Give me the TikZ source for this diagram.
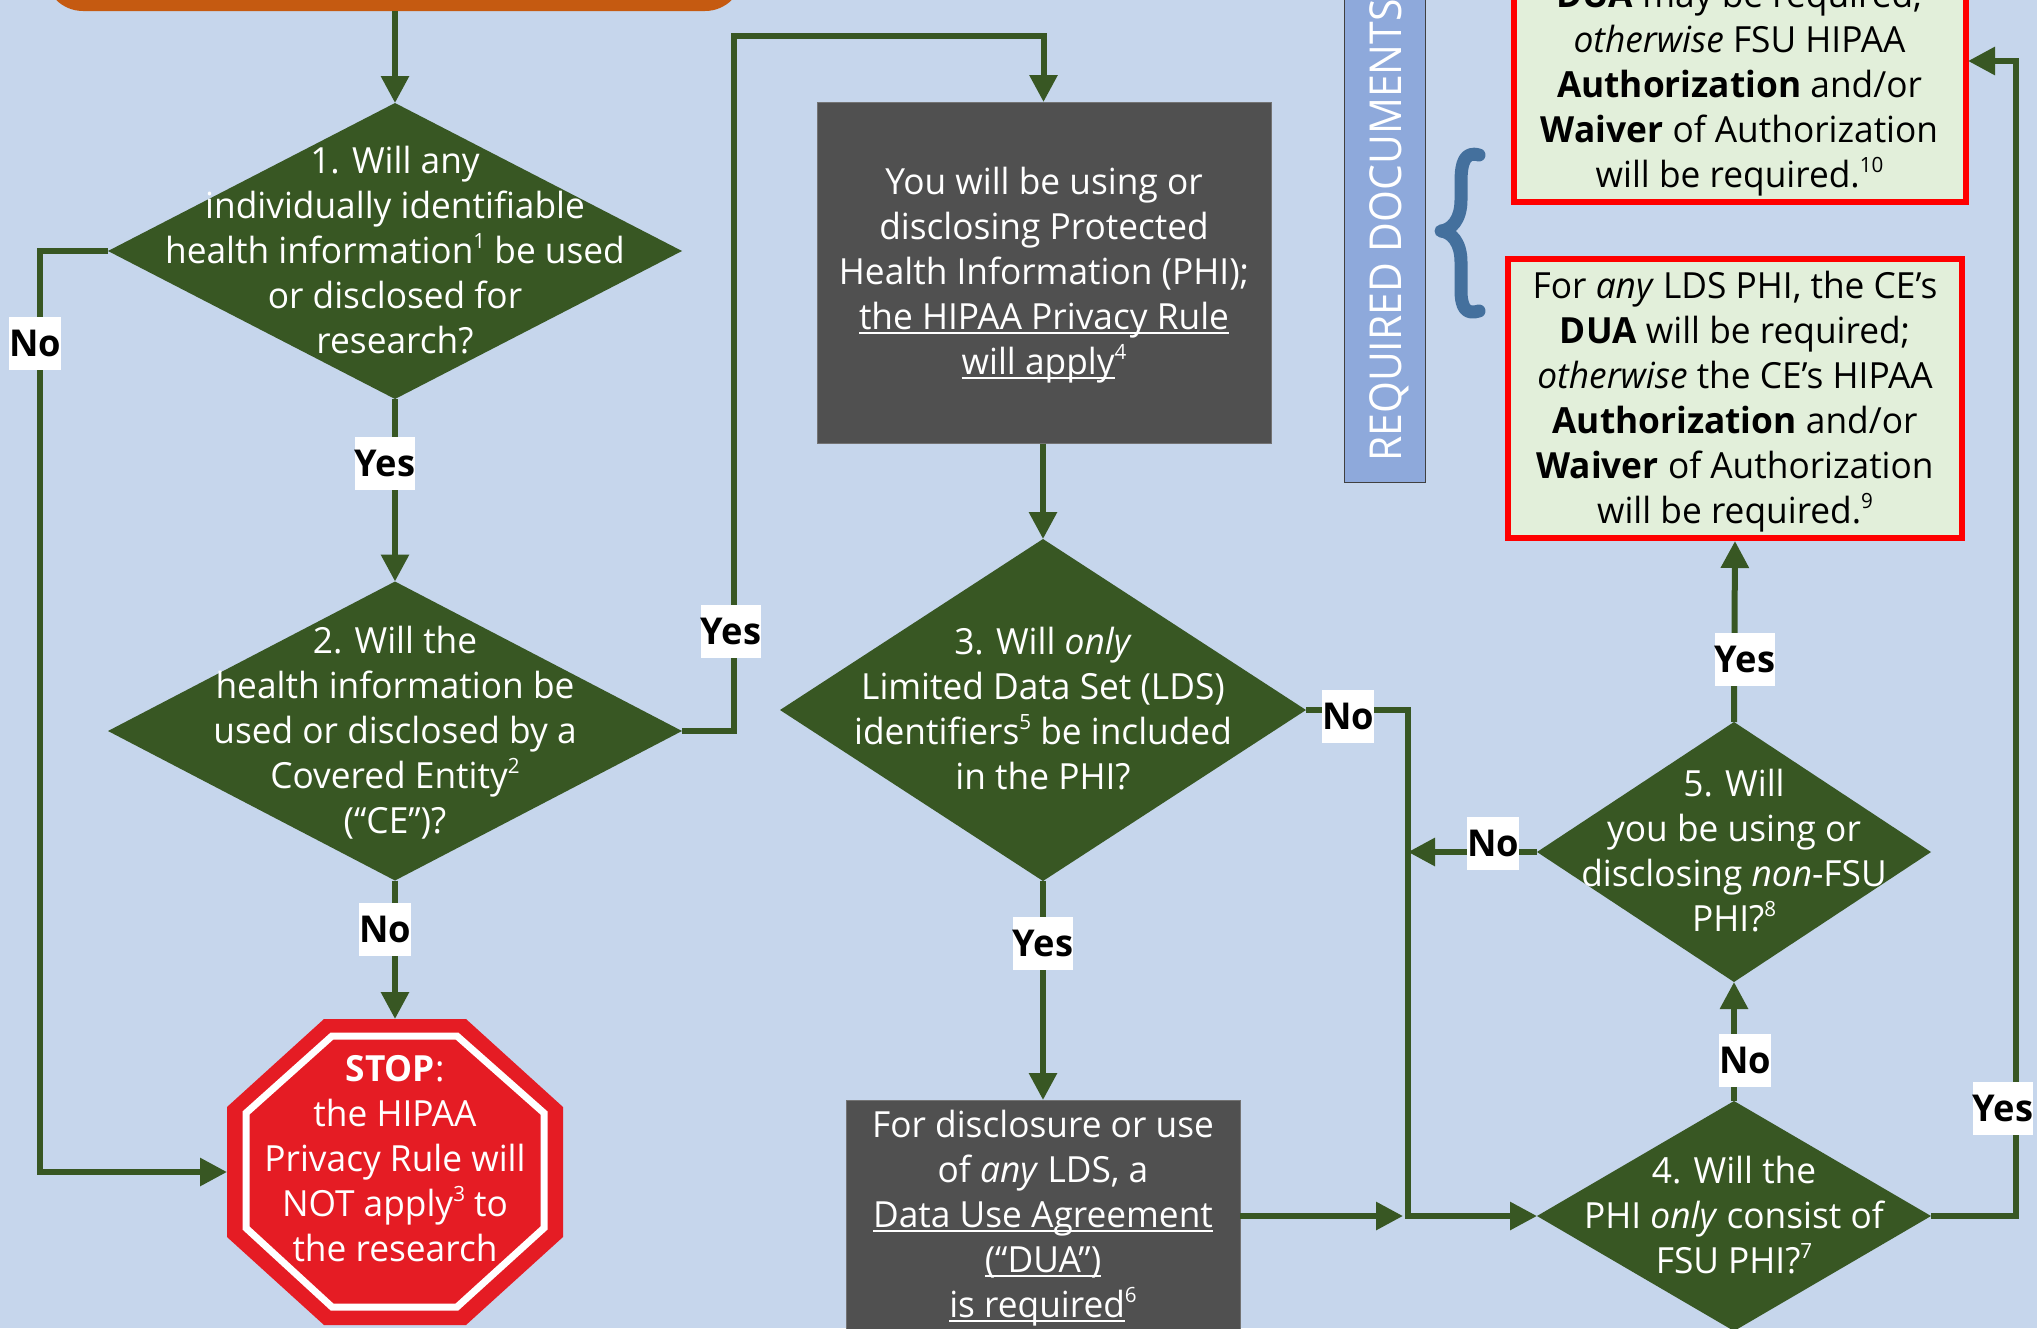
\documentclass[tikz,border=0pt]{standalone}
\usepackage{fontspec}
\usetikzlibrary{arrows.meta,shapes.geometric}
\setmainfont{Open Sans}[FakeStretch=0.98]
\newfontfamily\barfont{Open Sans}[FakeStretch=0.93]
\newcommand\uline[1]{\leavevmode\setbox0=\hbox{#1}\rlap{\rule[-5pt]{\wd0}{2.4pt}}\box0 }
\newcommand\sups[1]{\raisebox{.42em}{\fontsize{21}{21}\selectfont #1}}
\definecolor{pagebg}{HTML}{C6D6EC}
\definecolor{flowgreen}{HTML}{385723}
\definecolor{boxgrey}{HTML}{505050}
\definecolor{stopred}{HTML}{E51C24}
\definecolor{barblue}{HTML}{8EA9DB}
\definecolor{bracecol}{HTML}{44709D}
\definecolor{docgreen}{HTML}{E2EFDA}
\definecolor{headorange}{HTML}{C55A11}
\tikzset{
  bodytext/.style={font=\fontsize{36}{45}\selectfont,align=center,inner sep=0pt,outer sep=0pt},
  dia/.style={diamond,fill=flowgreen,aspect=1,inner sep=0pt,outer sep=0pt},
  ontext/.style={bodytext,text=white},
  darktext/.style={bodytext,text=black},
  greybox/.style={rectangle,fill=boxgrey,draw=boxgrey!80!white,line width=1pt,inner sep=0pt,outer sep=0pt},
  docbox/.style={rectangle,fill=docgreen,draw=red,line width=6pt,inner sep=0pt,outer sep=3pt},
  flow/.style={draw=flowgreen,line width=6pt,-{Triangle[length=27pt,width=27pt]}},
  tag/.style={fill=white,text=black,font=\fontsize{37}{37}\selectfont\bfseries,inner sep=0pt,outer sep=0pt,minimum height=53pt,minimum width=52pt}
}
\begin{document}
\begin{tikzpicture}[x=1pt,y=-1pt]
\useasboundingbox (0,0) rectangle (2037,1328);
\clip (0,0) rectangle (2037,1328);
\fill[pagebg] (0,0) rectangle (2037,1328);

% header
\fill[headorange,rounded corners=38pt] (45,-80) rectangle (743,11);

% decisions
\node[dia,minimum width=574pt,minimum height=296pt] (d1) at (395,251) {};
\node[ontext] (d1t) at (395,250) {1. Will any\\individually identifiable\\health information\sups{1} be used\\or disclosed for\\research?};
\node[dia,minimum width=574pt,minimum height=299pt] (d2) at (395,731) {};
\node[ontext] (d2t) at (395,732.5) {2. Will the\\health information be\\used or disclosed by a\\Covered Entity\sups{2}\\(“CE”)?};
\node[dia,minimum width=526pt,minimum height=342pt] (d3) at (1043,710) {};
\node[ontext] (d3t) at (1043,709) {3. Will \textit{only}\\Limited Data Set (LDS)\\identifiers\sups{5} be included\\in the PHI?};
\node[dia,minimum width=394pt,minimum height=260pt] (d5) at (1734,852) {};
\node[ontext] (d5t) at (1734,851) {5. Will\\you be using or\\disclosing \textit{non}-FSU\\PHI?\sups{8}};
\node[dia,minimum width=394pt,minimum height=230pt] (d4) at (1734,1216) {};
\node[ontext] (d4t) at (1734,1215) {4. Will the\\PHI \textit{only} consist of\\FSU PHI?\sups{7}};

% grey boxes
\node[greybox,minimum width=454pt,minimum height=341pt] (phi) at (1044,273) {};
\node[ontext] (phit) at (1044,275) {You will be using or\\disclosing Protected\\Health Information (PHI);\\\uline{the HIPAA Privacy Rule}\\\uline{will apply}\sups{4}};
\node[greybox,minimum width=394pt,minimum height=300pt] (lds) at (1043,1250) {};
\node[ontext] (ldst) at (1043,1218) {For disclosure or use\\of \textit{any} LDS, a\\\uline{Data Use Agreement}\\\uline{(“DUA”)}\\\uline{is required}\sups{6}};

% stop sign
\fill[stopred] (324,1019) -- (466,1019) -- (563,1107) -- (563,1237) -- (466,1325) -- (324,1325) -- (227,1237) -- (227,1107) -- cycle;
\draw[white,line width=7pt] (332,1036) -- (457,1036) -- (544,1113) -- (544,1228) -- (457,1307) -- (332,1307) -- (246,1228) -- (246,1113) -- cycle;
\node[rectangle,minimum width=336pt,minimum height=306pt,inner sep=0pt,outer sep=0pt] (stop) at (395,1172) {};
\node[ontext] (stopt) at (395,1159) {\textbf{STOP}:\\the HIPAA\\Privacy Rule will\\NOT apply\sups{3} to\\the research};

% required documents bar
\node[rectangle,fill=barblue,draw=black!75,line width=1pt,minimum width=81pt,minimum height=620pt,inner sep=0pt,outer sep=0pt] (bar) at (1384.5,172) {};
\node[rotate=90,anchor=west,text=white,font=\barfont\fontsize{44}{50}\selectfont,inner sep=0pt] (bart) at (1389,462) {REQUIRED DOCUMENTS};

% brace
\draw[bracecol,line width=13pt,line cap=round,line join=round] (1479,155) .. controls (1465,151) and (1461,162) .. (1461,182) -- (1461,200) .. controls (1461,220) and (1451,230) .. (1441,231) .. controls (1451,232) and (1461,242) .. (1461,262) -- (1461,290) .. controls (1461,308) and (1466,315) .. (1479,311);

% document boxes
\node[docbox,minimum width=452pt,minimum height=280pt] (boxa) at (1739.5,62) {};
\node[darktext] (boxat) at (1739.5,88) {\textbf{DUA} may be required;\\\textit{otherwise} FSU HIPAA\\\textbf{Authorization} and/or\\\textbf{Waiver} of Authorization\\will be required.\sups{10}};
\node[docbox,minimum width=454pt,minimum height=279pt] (boxb) at (1735,398.5) {};
\node[darktext] (boxbt) at (1735,402) {For \textit{any} LDS PHI, the CE’s\\\textbf{DUA} will be required;\\\textit{otherwise} the CE’s HIPAA\\\textbf{Authorization} and/or\\\textbf{Waiver} of Authorization\\will be required.\sups{9}};

% connectors
\coordinate (head) at (395,11);
\coordinate (n1) at (40,251);
\coordinate (n2) at (40,1172);
\coordinate (y1) at (734,731);
\coordinate (y2) at (734,36);
\coordinate (y3) at (1043.5,36);
\coordinate (n3) at (1408,710);
\coordinate (n4) at (1408,1216);
\coordinate (in1) at (1403,1216);
\coordinate (in2) at (1408,852);
\coordinate (y4) at (2016,1216);
\coordinate (y5) at (2016,61);
\coordinate (y6) at (1968,61);
\coordinate (phitop) at (1043.5,102);
\draw[flow] (head) -- (d1.north);
\draw[flow] (d1.south) -- (d2.north);
\draw[flow] (d2.south) -- (stop.north);
\draw[flow] (d1.west) -- (n1) -- (n2) -- (stop.west);
\draw[flow] (d2.east) -- (y1) -- (y2) -- (y3) -- (phitop);
\draw[flow] (phi.south -| d3.north) -- (d3.north);
\draw[flow] (d3.south) -- (lds.north);
\draw[flow] (d3.east) -- (n3) -- (n4) -- (d4.west);
\draw[flow] (lds.east |- in1) -- (in1);
\draw[flow] (d5.west) -- (in2);
\draw[flow] (d4.north) -- (d5.south);
\draw[flow] (d5.north) -- (boxb.south);
\draw[flow] (d4.east) -- (y4) -- (y5) -- (y6);

% labels
\node[tag] (t1) at (35,343) {No};
\node[tag] (t2) at (385,463) {Yes};
\node[tag] (t3) at (385,929) {No};
\node[tag] (t4) at (731,631) {Yes};
\node[tag] (t5) at (1043,943) {Yes};
\node[tag] (t6) at (1348,716) {No};
\node[tag] (t7) at (1493,843) {No};
\node[tag] (t8) at (1745,659) {Yes};
\node[tag] (t9) at (1745,1060) {No};
\node[tag] (t10) at (2003,1108) {Yes};
\end{tikzpicture}
\end{document}
